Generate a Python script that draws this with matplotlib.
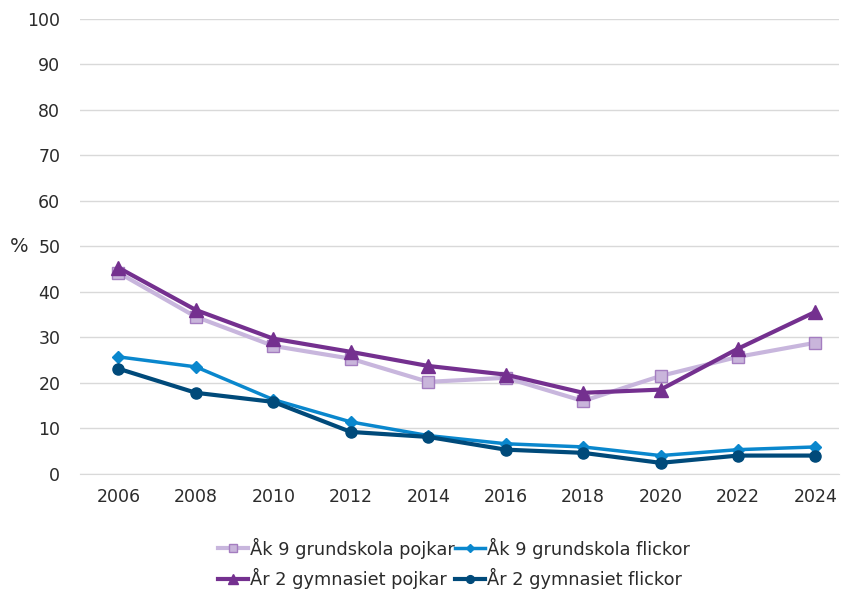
import matplotlib
matplotlib.use("Agg")
import matplotlib.pyplot as plt
import numpy as np

plt.rcParams['font.family'] = 'DejaVu Sans'

years = ['2006', '2008', '2010', '2012', '2014', '2016', '2018', '2020', '2022', '2024']

ak9_pojkar = [44.2, 34.5, 28.1, 25.3, 20.2, 21.1, 16.0, 21.5, 25.7, 28.8]
ak9_flickor = [25.7, 23.5, 16.3, 11.4, 8.4, 6.6, 5.9, 4.0, 5.3, 5.9]
ar2_pojkar = [45.3, 36.0, 29.7, 26.8, 23.7, 21.8, 17.8, 18.5, 27.5, 35.6]
ar2_flickor = [23.1, 17.8, 15.8, 9.2, 8.1, 5.3, 4.6, 2.4, 4.0, 4.0]

labels = ['Åk 9 grundskola pojkar', 'Åk 9 grundskola flickor',
          'År 2 gymnasiet pojkar', 'År 2 gymnasiet flickor']

text_color = '#2B2B2B'

fig = plt.figure(figsize=(8.48, 5.9), dpi=100)
ax = fig.add_axes([0.094, 0.197, 0.895, 0.771])

x = np.arange(len(years))

ax.plot(x, ak9_pojkar, color='#C8B6DD', lw=3, marker='s', markersize=8,
        markerfacecolor='#C9B5DB', markeredgecolor='#A47DC0', markeredgewidth=1,
        label=labels[0], zorder=3)
ax.plot(x, ak9_flickor, color='#0A87CD', lw=2.5, marker='D', markersize=6,
        markerfacecolor='#0A87CD', markeredgecolor='#0A87CD',
        label=labels[1], zorder=4)
ax.plot(x, ar2_pojkar, color='#74308F', lw=3, marker='^', markersize=9.5,
        markerfacecolor='#74308F', markeredgecolor='#74308F',
        label=labels[2], zorder=5)
ax.plot(x, ar2_flickor, color='#004A7A', lw=3, marker='o', markersize=8,
        markerfacecolor='#004A7A', markeredgecolor='#004A7A',
        label=labels[3], zorder=4)

ax.set_ylim(0, 100)
ax.set_yticks(range(0, 101, 10))
ax.set_xlim(-0.5, 9.3)
ax.set_xticks(x)
ax.set_xticklabels(years)
ax.tick_params(axis='both', length=0, labelsize=12.5, colors=text_color)
ax.tick_params(axis='y', pad=14)
ax.tick_params(axis='x', pad=10)

ax.grid(axis='y', color='#D9D9D9', linewidth=1)
ax.set_axisbelow(True)
for side in ['top', 'right', 'left']:
    ax.spines[side].set_visible(False)
ax.spines['bottom'].set_color('#D9D9D9')

ax.set_ylabel('%', rotation=0, fontsize=14, color=text_color,
              va='center', ha='center')
ax.yaxis.set_label_coords(-0.08, 0.5)

handles, labs = ax.get_legend_handles_labels()
order = [0, 2, 1, 3]
leg = fig.legend([handles[i] for i in order], [labs[i] for i in order],
                 loc='center', bbox_to_anchor=(0.535, 0.045), ncol=2,
                 frameon=False, fontsize=12.8, handlelength=1.7,
                 handletextpad=0.1, columnspacing=0.0, labelspacing=0.55,
                 markerscale=0.7)
for t in leg.get_texts():
    t.set_color(text_color)

fig.savefig('out.png', dpi=100)
